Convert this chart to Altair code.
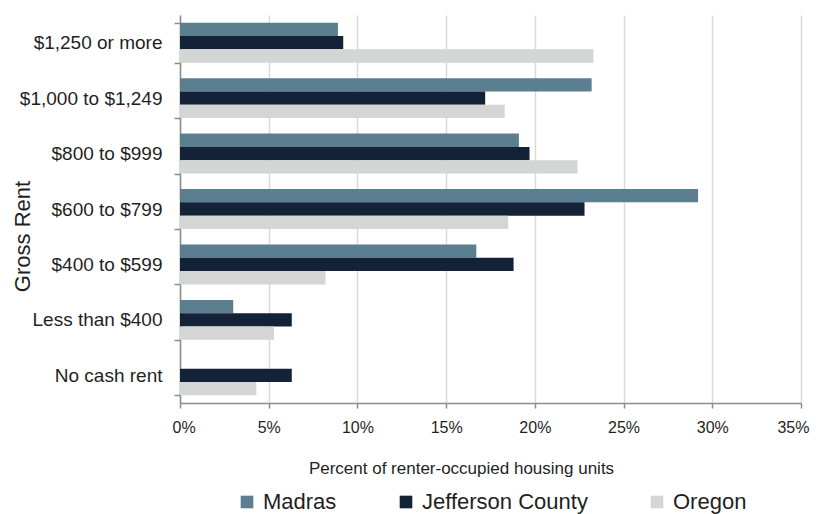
import altair as alt
import pandas as pd

categories = ["$1,250 or more", "$1,000 to $1,249", "$800 to $999", "$600 to $799",
              "$400 to $599", "Less than $400", "No cash rent"]
series = ["Madras", "Jefferson County", "Oregon"]
madras = [8.9, 23.2, 19.1, 29.2, 16.7, 3.0, 0.0]
jefferson = [9.2, 17.2, 19.7, 22.8, 18.8, 6.3, 6.3]
oregon = [23.3, 18.3, 22.4, 18.5, 8.2, 5.3, 4.3]
colors = ["#5B7E91", "#142237", "#D4D5D5"]
x_ticks = [0, 5, 10, 15, 20, 25, 30, 35]

rows = []
for name, vals in zip(series, [madras, jefferson, oregon]):
    for c, v in zip(categories, vals):
        rows.append({"rent": c, "series": name, "pct": v})
df = pd.DataFrame(rows)

FONT = "Liberation Sans"
TEXT = "#1F1F1F"

chart = alt.Chart(df).mark_bar().encode(
    y=alt.Y("rent:N", sort=categories,
            scale=alt.Scale(paddingInner=0.28, paddingOuter=0.14),
            axis=alt.Axis(title="Gross Rent", tickBand="extent", grid=False,
                          domainColor="#8C8C8C", domainWidth=1.5,
                          tickColor="#8C8C8C", tickWidth=1.5, tickSize=6,
                          labelFontSize=19, labelPadding=12, labelColor=TEXT,
                          labelFont=FONT, labelLimit=300, titleFont=FONT, titleFontSize=22,
                          titleFontWeight="normal", titleColor=TEXT,
                          titleX=-151, titleY=221, titleBaseline="alphabetic",
                          titleAngle=270)),
    yOffset=alt.YOffset("series:N", sort=series,
                        scale=alt.Scale(paddingInner=0, paddingOuter=0)),
    x=alt.X("pct:Q", scale=alt.Scale(domain=[0, 35], nice=False),
            axis=alt.Axis(title="Percent of renter-occupied housing units",
                          values=x_ticks, labelExpr="datum.value + '%'",
                          labelFlush=True, labelFlushOffset=8,
                          grid=True, gridColor="#D9D9D9", gridWidth=1.5,
                          domainColor="#8C8C8C", domainWidth=1.5,
                          tickColor="#8C8C8C", tickWidth=1.5, tickSize=5,
                          labelFontSize=16, labelFont=FONT, labelColor=TEXT,
                          labelBaseline="alphabetic", labelPadding=24,
                          titleFont=FONT, titleFontSize=17, titleFontWeight="normal",
                          titleColor=TEXT, titleX=281, titleY=70,
                          titleBaseline="alphabetic")),
    color=alt.Color("series:N", sort=series,
                    scale=alt.Scale(domain=series, range=colors),
                    legend=alt.Legend(title=None, orient="none", direction="horizontal",
                                      legendX=56, legendY=476, padding=0,
                                      symbolType="square", symbolSize=160,
                                      symbolStrokeWidth=0, labelOffset=5,
                                      labelFontSize=22, labelFont=FONT, labelLimit=400,
                                      labelColor=TEXT, columnPadding=58)),
).properties(
    width=621, height=388,
    autosize=alt.AutoSizeParams(type="none"),
    padding={"left": 172, "top": 7, "right": 10, "bottom": 111},
).configure(background="white").configure_view(stroke=None)

chart.save("out.html", embed_options={"renderer": "svg", "actions": False})
